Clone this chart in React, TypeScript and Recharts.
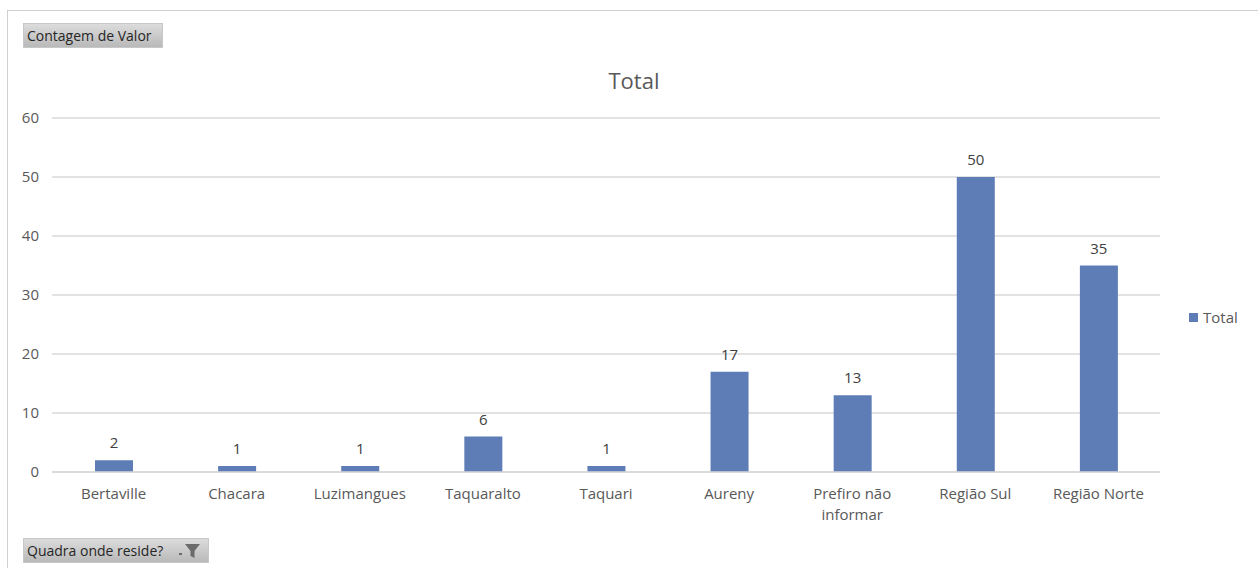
import { BarChart, Bar, XAxis, YAxis, CartesianGrid, LabelList } from "recharts";

const categories = [
  "Bertaville",
  "Chacara",
  "Luzimangues",
  "Taquaralto",
  "Taquari",
  "Aureny",
  "Prefiro não informar",
  "Região Sul",
  "Região Norte",
];
const totals = [2, 1, 1, 6, 1, 17, 13, 50, 35];
const yTicks = [0, 10, 20, 30, 40, 50, 60];

const data = categories.map((name, i) => ({ name, total: totals[i] }));

const FONT = "'Segoe UI', 'Open Sans', 'Noto Sans', sans-serif";
const TEXT = "#595959";
const GRID = "#d9d9d9";
const BAR = "#5e7cb6";

// simple word wrap for long category names
function wrap(label: string, max = 12) {
  const lines: string[] = [];
  let cur = "";
  for (const w of label.split(" ")) {
    const next = cur ? cur + " " + w : w;
    if (next.length > max && cur) {
      lines.push(cur);
      cur = w;
    } else cur = next;
  }
  if (cur) lines.push(cur);
  return lines;
}

const CategoryTick = (props: any) => {
  const { x, y, payload } = props;
  const lines = wrap(String(payload.value));
  return (
    <text x={x} y={y} textAnchor="middle" fill={TEXT} fontSize={15} fontFamily={FONT}>
      {lines.map((l, i) => (
        <tspan key={i} x={x} dy={i === 0 ? 19 : 21}>
          {l}
        </tspan>
      ))}
    </text>
  );
};

const buttonStyle: React.CSSProperties = {
  position: "absolute",
  height: 25,
  boxSizing: "border-box",
  background: "linear-gradient(#dcdcdc, #b9b9b9)",
  border: "1px solid #c8c8c8",
  fontFamily: FONT,
  fontSize: 14,
  color: "#262626",
  lineHeight: "23px",
  paddingLeft: 3,
  whiteSpace: "nowrap",
};

export default function App() {
  return (
    <div
      style={{
        position: "absolute",
        left: 0,
        top: 0,
        width: 1258,
        height: 568,
        background: "#fff",
        overflow: "hidden",
      }}
    >
      {/* chart frame */}
      <div
        style={{
          position: "absolute",
          left: 7,
          top: 10,
          width: 1260,
          height: 570,
          borderLeft: "1px solid #d0d0d0",
          borderTop: "1px solid #d0d0d0",
        }}
      />
      <div style={{ ...buttonStyle, left: 23, top: 23, width: 140 }}>Contagem de Valor</div>
      <div
        style={{
          position: "absolute",
          left: 0,
          width: 1268,
          top: 65,
          textAlign: "center",
          fontFamily: FONT,
          fontSize: 22,
          color: TEXT,
        }}
      >
        Total
      </div>
      <div style={{ position: "absolute", left: 0, top: 0 }}>
        <BarChart
          width={1258}
          height={568}
          data={data}
          margin={{ top: 118, right: 98, bottom: 66, left: 0 }}
        >
          <CartesianGrid vertical={false} stroke={GRID} strokeWidth={1.3} />
          <XAxis
            dataKey="name"
            interval={0}
            height={30}
            tickLine={false}
            axisLine={{ stroke: GRID, strokeWidth: 1.3 }}
            tick={<CategoryTick />}
          />
          <YAxis
            width={52}
            domain={[0, 60]}
            ticks={yTicks}
            axisLine={false}
            tickLine={false}
            tickMargin={7}
            tick={{ fill: TEXT, fontSize: 15, fontFamily: FONT }}
          />
          <Bar dataKey="total" fill={BAR} barSize={38} isAnimationActive={false}>
            <LabelList
              dataKey="total"
              position="top"
              offset={12}
              fill="#404040"
              fontSize={15}
              fontFamily={FONT}
            />
          </Bar>
        </BarChart>
      </div>
      {/* legend */}
      <div
        style={{
          position: "absolute",
          left: 1189,
          top: 307,
          display: "flex",
          alignItems: "center",
          fontFamily: FONT,
          fontSize: 15,
          color: TEXT,
        }}
      >
        <span style={{ width: 9, height: 9, background: BAR, marginRight: 5, display: "inline-block" }} />
        Total
      </div>
      <div style={{ ...buttonStyle, left: 23, top: 538, width: 186 }}>
        Quadra onde reside?
        <svg
          width={24}
          height={18}
          style={{ position: "absolute", right: 6, top: 3 }}
          viewBox="0 0 24 18"
        >
          <rect x={1} y={11} width={3} height={2} fill="#6b6b6b" />
          <path d="M7 2 H22 L16.5 9 V16 L12.5 14 V9 Z" fill="#6b6b6b" />
        </svg>
      </div>
    </div>
  );
}
